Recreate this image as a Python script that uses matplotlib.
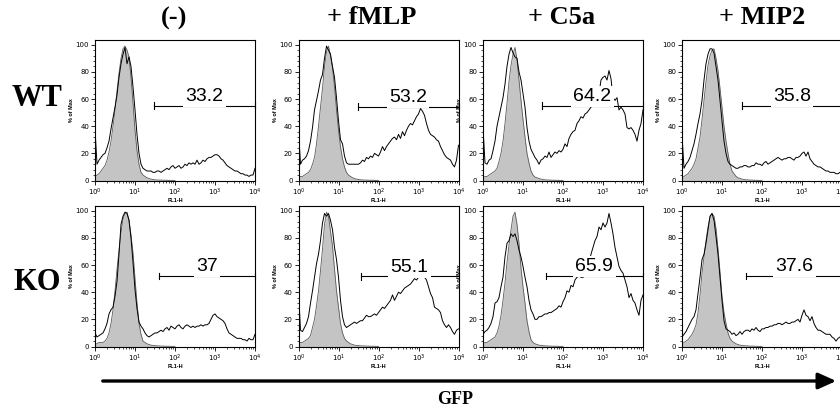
import numpy as np
import matplotlib
matplotlib.use("Agg")
import matplotlib.pyplot as plt
from matplotlib.patches import FancyArrowPatch
from matplotlib.ticker import AutoMinorLocator, LogLocator, NullFormatter

# =====================
# DATA
# =====================
# histogram bins in log10(FL1-H), 0.05 decade steps
BINS = [round(0.05 * i, 2) for i in range(81)]
CTRL_BINS = BINS[:41]

COLUMNS = ["(-)", "+ fMLP", "+ C5a", "+ MIP2"]
ROWS = ["WT", "KO"]

GATE_WT = ["33.2", "53.2", "64.2", "35.8"]
GATE_KO = ["37", "55.1", "65.9", "37.6"]
GATE_START_WT = [1.48, 1.48, 1.47, 1.50]
GATE_START_KO = [1.61, 1.55, 1.57, 1.61]
GATE_Y_WT = [55, 54.5, 55, 55]
GATE_Y_KO = [52, 51.7, 52, 52]

# unstimulated control (grey filled), % of max
ctrl_wt_neg = [3, 4, 5, 7, 9, 11, 15, 21, 29, 40,
               52, 66, 79, 90, 97, 99, 96, 91, 76, 57,
               37, 22, 12, 6, 4, 3, 2, 1.5, 1, 0.8,
               0.5, 0.4, 0.3, 0.3, 0.2, 0.2, 0.2, 0.1, 0.1, 0.1, 0.1]
ctrl_wt_fmlp = [2, 3, 3, 4, 5, 6, 8, 12, 17, 27,
                40, 54, 68, 84, 95, 99, 92, 83, 69, 52,
                37, 25, 16, 10, 6, 4, 3, 2, 1.5, 1,
                0.8, 0.5, 0.4, 0.3, 0.3, 0.2, 0.2, 0.2, 0.1, 0.1, 0.1]
ctrl_wt_c5a = [2, 3, 3, 4, 5, 6, 7, 9, 14, 20,
               29, 42, 57, 73, 85, 93, 98, 89, 74, 59,
               45, 32, 20, 13, 7, 4, 2.5, 2, 1.5, 1,
               0.8, 0.5, 0.4, 0.3, 0.3, 0.2, 0.2, 0.2, 0.1, 0.1, 0.1]
ctrl_wt_mip2 = [2, 3, 4, 5, 7, 9, 12, 16, 24, 32,
                45, 59, 73, 85, 92, 96, 97, 90, 81, 68,
                54, 40, 29, 20, 12, 7, 5, 3, 2, 1.5,
                1, 0.8, 0.5, 0.4, 0.3, 0.3, 0.2, 0.2, 0.1, 0.1, 0.1]
ctrl_ko_neg = [2, 2, 3, 3, 3, 4, 6, 10, 17, 27,
               41, 57, 71, 84, 94, 98, 99, 93, 82, 69,
               50, 32, 17, 9, 4, 3, 2, 1.5, 1, 0.8,
               0.6, 0.5, 0.4, 0.3, 0.3, 0.2, 0.2, 0.2, 0.1, 0.1, 0.1]
ctrl_ko_fmlp = [2, 3, 3, 4, 5, 6, 8, 14, 20, 30,
                41, 56, 72, 90, 99, 96, 85, 74, 57, 41,
                29, 17, 10, 6, 4, 3, 2, 1.5, 1, 0.8,
                0.6, 0.5, 0.4, 0.4, 0.3, 0.3, 0.2, 0.2, 0.2, 0.1, 0.1]
ctrl_ko_c5a = [2, 3, 3, 4, 5, 6, 7, 10, 15, 23,
               34, 47, 62, 75, 86, 96, 99, 90, 76, 58,
               44, 32, 19, 11, 5, 3, 2, 1.5, 1, 0.8,
               0.6, 0.5, 0.4, 0.3, 0.3, 0.2, 0.2, 0.2, 0.1, 0.1, 0.1]
ctrl_ko_mip2 = [2, 3, 4, 5, 7, 9, 12, 16, 25, 38,
                54, 66, 78, 88, 95, 98, 96, 87, 72, 55,
                37, 25, 17, 10, 6, 4, 3, 2, 1.5, 1,
                0.8, 0.6, 0.5, 0.4, 0.3, 0.3, 0.2, 0.2, 0.1, 0.1, 0.1]

# stimulated sample (black line), % of max
samp_wt_neg = [38, 12, 15, 17, 19, 20, 24, 29, 38, 46,
               54, 63, 76, 86, 93, 98, 86, 91, 84, 69,
               52, 34, 20, 12, 9, 8, 7, 7, 7, 6,
               6, 7, 7, 6, 7, 8, 9, 8, 10, 11,
               9, 10, 11, 9, 10, 12, 11, 13, 12, 13,
               12, 15, 12, 13, 15, 14, 16, 17, 17, 18,
               19, 19, 18, 16, 15, 13, 11, 10, 9, 8,
               7, 7, 6, 5, 5, 4, 4, 3, 4, 4,
               9]
samp_wt_fmlp = [38, 12, 15, 16, 18, 22, 29, 39, 52, 59,
                66, 74, 78, 90, 99, 96, 93, 84, 76, 61,
                44, 30, 27, 18, 13, 12, 12, 12, 12, 12,
                12, 13, 15, 14, 17, 16, 18, 17, 20, 19,
                18, 21, 25, 22, 25, 27, 29, 31, 32, 30,
                34, 31, 36, 33, 37, 40, 42, 41, 44, 47,
                49, 53, 51, 48, 42, 37, 34, 33, 32, 30,
                29, 25, 22, 19, 17, 16, 15, 12, 10, 15,
                26]
samp_wt_c5a = [39, 13, 12, 15, 16, 22, 29, 40, 47, 54,
               61, 71, 84, 93, 98, 94, 91, 90, 80, 74,
               64, 54, 39, 29, 23, 20, 17, 15, 12, 15,
               16, 18, 17, 21, 17, 19, 21, 20, 22, 21,
               23, 27, 25, 31, 34, 36, 37, 42, 44, 47,
               46, 49, 50, 52, 54, 56, 57, 60, 64, 74,
               76, 77, 74, 81, 75, 61, 59, 61, 52, 54,
               52, 49, 39, 38, 39, 37, 34, 29, 37, 42,
               52]
samp_wt_mip2 = [34, 9, 12, 14, 17, 22, 27, 34, 42, 49,
                59, 74, 86, 93, 97, 97, 94, 84, 74, 59,
                44, 29, 20, 14, 12, 11, 10, 9, 9, 10,
                10, 11, 11, 10, 10, 11, 11, 13, 12, 12,
                11, 13, 14, 12, 13, 14, 15, 16, 17, 16,
                15, 16, 16, 17, 17, 16, 15, 17, 17, 18,
                20, 21, 18, 21, 16, 14, 12, 11, 10, 10,
                9, 8, 7, 7, 6, 6, 6, 5, 5, 6,
                7]
samp_ko_neg = [10, 7, 8, 9, 10, 13, 17, 24, 27, 29,
               37, 48, 68, 90, 96, 99, 98, 93, 80, 62,
               42, 28, 18, 15, 13, 10, 8, 7, 8, 9,
               10, 10, 11, 12, 11, 13, 14, 12, 15, 14,
               13, 15, 16, 14, 13, 15, 16, 15, 14, 15,
               14, 15, 15, 16, 15, 16, 16, 17, 20, 23,
               24, 22, 21, 20, 19, 17, 13, 10, 9, 8,
               7, 6, 6, 6, 5, 5, 4, 6, 5, 5,
               9]
samp_ko_fmlp = [41, 12, 11, 14, 17, 22, 32, 41, 51, 61,
                68, 78, 91, 98, 96, 98, 93, 86, 73, 64,
                51, 34, 22, 16, 14, 15, 16, 17, 18, 17,
                18, 19, 19, 21, 23, 22, 22, 23, 24, 23,
                25, 27, 29, 28, 30, 32, 34, 38, 34, 37,
                40, 39, 41, 43, 44, 45, 46, 48, 50, 49,
                51, 53, 54, 51, 49, 44, 39, 36, 29, 28,
                27, 25, 19, 16, 14, 16, 14, 11, 9, 12,
                13]
samp_ko_c5a = [9, 11, 12, 14, 17, 22, 32, 33, 36, 44,
               51, 66, 76, 78, 83, 81, 83, 78, 71, 66,
               59, 51, 44, 34, 27, 24, 20, 20, 22, 22,
               23, 24, 24, 25, 25, 26, 27, 28, 30, 29,
               33, 36, 41, 40, 45, 44, 49, 51, 52, 51,
               51, 52, 54, 61, 68, 73, 78, 81, 88, 86,
               91, 88, 91, 98, 91, 83, 73, 66, 59, 56,
               54, 49, 44, 36, 39, 34, 32, 27, 23, 34,
               38]
samp_ko_mip2 = [7, 9, 11, 14, 17, 20, 22, 27, 39, 51,
                64, 68, 76, 86, 96, 98, 93, 81, 68, 51,
                34, 19, 13, 12, 11, 9, 10, 8, 9, 11,
                9, 11, 12, 12, 11, 13, 12, 14, 12, 11,
                13, 13, 14, 14, 15, 15, 16, 16, 17, 17,
                16, 17, 18, 17, 17, 18, 18, 19, 20, 18,
                23, 27, 23, 22, 19, 22, 17, 14, 12, 12,
                11, 10, 9, 9, 9, 7, 6, 4, 6, 7,
                7]

CTRL = [[ctrl_wt_neg, ctrl_wt_fmlp, ctrl_wt_c5a, ctrl_wt_mip2],
        [ctrl_ko_neg, ctrl_ko_fmlp, ctrl_ko_c5a, ctrl_ko_mip2]]
SAMP = [[samp_wt_neg, samp_wt_fmlp, samp_wt_c5a, samp_wt_mip2],
        [samp_ko_neg, samp_ko_fmlp, samp_ko_c5a, samp_ko_mip2]]
GATES = [GATE_WT, GATE_KO]
GATE_START = [GATE_START_WT, GATE_START_KO]
GATE_Y = [GATE_Y_WT, GATE_Y_KO]

# =====================
# LAYOUT (pixels)
# =====================
W, H = 840, 412
COL_LEFT = [95, 298.5, 483, 682]
PANEL_W = 160
ROW_TOP = [40, 206]
PANEL_H = 140.5

SERIF = "Liberation Serif"
SANS = "Liberation Sans"


def draw_panel(ax, ctrl, samp, g_lo, g_y, g_txt):
    xc = 10 ** np.array(CTRL_BINS)
    xs = 10 ** np.array(BINS)
    ax.fill_between(xc, 0, ctrl, color="#c4c4c4", lw=0, zorder=1)
    ax.plot(xc, ctrl, color="#5a5a5a", lw=0.6, zorder=2)
    ax.plot(xs, samp, color="black", lw=0.7, zorder=3)

    ax.set_xscale("log")
    ax.set_xlim(1, 1e4)
    ax.set_ylim(0, 103.5)

    # gate marker
    ax.plot([10 ** g_lo, 1e4], [g_y, g_y], color="black", lw=0.8, zorder=4)
    ax.plot([10 ** g_lo] * 2, [g_y - 2.5, g_y + 2.5], color="black", lw=0.8, zorder=4)
    ax.plot([1e4] * 2, [g_y - 2.5, g_y + 2.5], color="black", lw=0.8, zorder=4,
            clip_on=False)
    ax.text(10 ** ((g_lo + 4) / 2), g_y + 0.6, g_txt, ha="center", va="bottom",
            fontsize=14, family=SANS, zorder=6,
            bbox=dict(boxstyle="square,pad=0.12", fc="white", ec="none"))

    ax.set_xticks([1, 10, 100, 1000, 10000])
    ax.set_xticklabels([r"$10^0$", r"$10^1$", r"$10^2$", r"$10^3$", r"$10^4$"])
    ax.xaxis.set_minor_locator(LogLocator(base=10, subs=np.arange(2, 10)))
    ax.xaxis.set_minor_formatter(NullFormatter())
    ax.set_yticks([0, 20, 40, 60, 80, 100])
    ax.yaxis.set_minor_locator(AutoMinorLocator(5))

    ax.tick_params(which="major", direction="out", length=3, width=0.6,
                   labelsize=5, pad=1.2)
    ax.tick_params(which="minor", direction="out", length=1.6, width=0.5)
    for s in ax.spines.values():
        s.set_linewidth(0.8)
    ax.set_xlabel("FL1-H", fontsize=4, labelpad=0.3, family=SANS, weight="bold")
    ax.set_ylabel("% of Max", fontsize=4, labelpad=1, family=SANS, weight="bold")


fig = plt.figure(figsize=(W / 100, H / 100), dpi=100)
plt.rcParams["mathtext.fontset"] = "dejavusans"

for r in range(2):
    for c in range(4):
        ax = fig.add_axes([COL_LEFT[c] / W, 1 - (ROW_TOP[r] + PANEL_H) / H,
                           PANEL_W / W, PANEL_H / H])
        draw_panel(ax, CTRL[r][c], SAMP[r][c], GATE_START[r][c], GATE_Y[r][c],
                   GATES[r][c])

# column titles
TITLE_X = [174, 372, 562, 762]
for c, t in enumerate(COLUMNS):
    fig.text(TITLE_X[c] / W, 1 - 18 / H, t, ha="center", va="center",
             fontsize=19, family=SERIF, weight="bold")

# row labels
ROW_Y = [98, 282]
for r, t in enumerate(ROWS):
    fig.text(37 / W, 1 - ROW_Y[r] / H, t, ha="center", va="center",
             fontsize=22, family=SERIF, weight="bold")

# GFP arrow
arrow = FancyArrowPatch((100 / W, 1 - 381 / H), (839 / W, 1 - 381 / H),
                        transform=fig.transFigure,
                        arrowstyle="-|>,head_length=0.6,head_width=0.27",
                        mutation_scale=18, lw=2.4, color="black")
fig.add_artist(arrow)
fig.text(455 / W, 1 - 400 / H, "GFP", ha="center", va="center",
         fontsize=13, family=SERIF, weight="bold")

fig.savefig("out.png", dpi=100)
